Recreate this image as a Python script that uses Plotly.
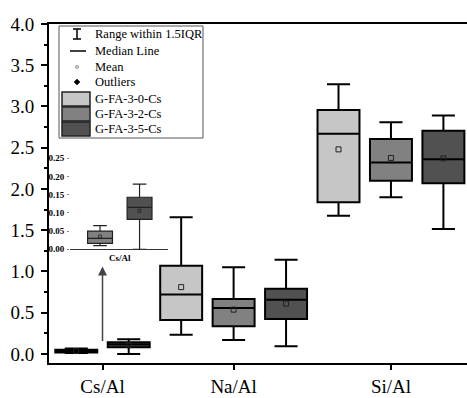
import plotly.graph_objects as go

# ---------------- data ----------------
categories = ["Cs/Al", "Na/Al", "Si/Al"]
cat_tick_pos = [0.5, 3, 6]
series = ["G-FA-3-0-Cs", "G-FA-3-2-Cs", "G-FA-3-5-Cs"]
colors = ["#c6c6c6", "#818181", "#515151"]

# box positions (one slot per box)
pos_30 = [2, 5]          # Na/Al, Si/Al
pos_32 = [0, 3, 6]       # Cs/Al, Na/Al, Si/Al
pos_35 = [1, 4, 7]

lf_30 = [0.234, 1.676]
q1_30 = [0.41, 1.84]
med_30 = [0.72, 2.67]
q3_30 = [1.07, 2.957]
uf_30 = [1.656, 3.27]
mean_30 = [0.81, 2.48]

lf_32 = [0.010, 0.17, 1.90]
q1_32 = [0.0165, 0.335, 2.10]
med_32 = [0.030, 0.557, 2.32]
q3_32 = [0.050, 0.667, 2.606]
uf_32 = [0.065, 1.05, 2.81]
mean_32 = [0.035, 0.537, 2.376]

lf_35 = [0.0, 0.092, 1.515]
q1_35 = [0.082, 0.424, 2.07]
med_35 = [0.115, 0.658, 2.36]
q3_35 = [0.143, 0.79, 2.707]
uf_35 = [0.179, 1.143, 2.89]
mean_35 = [0.106, 0.61, 2.37]

y_ticks = [0.0, 0.5, 1.0, 1.5, 2.0, 2.5, 3.0, 3.5, 4.0]
inset_ticks = [0.00, 0.05, 0.10, 0.15, 0.20, 0.25]

legend_items = ["Range within 1.5IQR", "Median Line", "Mean", "Outliers"]

# ---------------- layout geometry ----------------
W, H = 467, 398
ML, MR, MT, MB = 49, 0, 24, 35
PW, PH = W - ML - MR, H - MT - MB


def px_x(x):
    return (x - ML) / PW


def px_y(y):
    return (H - MB - y) / PH


FONT = "Liberation Serif"

fig = go.Figure()

groups = [
    (pos_30, lf_30, q1_30, med_30, q3_30, uf_30, mean_30, colors[0], series[0]),
    (pos_32, lf_32, q1_32, med_32, q3_32, uf_32, mean_32, colors[1], series[1]),
    (pos_35, lf_35, q1_35, med_35, q3_35, uf_35, mean_35, colors[2], series[2]),
]

for pos, lf, q1, med, q3, uf, mn, col, name in groups:
    fig.add_trace(go.Box(
        x=pos, lowerfence=lf, q1=q1, median=med, q3=q3, upperfence=uf,
        fillcolor=col, line=dict(color="black", width=2), width=0.8,
        whiskerwidth=0.55, boxpoints=False, name=name, showlegend=False,
        xaxis="x", yaxis="y"))
    fig.add_trace(go.Scatter(
        x=pos, y=mn, mode="markers",
        marker=dict(symbol="square-open", size=5, color="#222", line=dict(width=1)),
        showlegend=False, xaxis="x", yaxis="y"))

# inset: Cs/Al zoom
inset_data = [
    ([0], [lf_32[0]], [q1_32[0]], [med_32[0]], [q3_32[0]], [uf_32[0]], [mean_32[0]], colors[1]),
    ([1], [lf_35[0]], [q1_35[0]], [med_35[0]], [q3_35[0]], [uf_35[0]], [mean_35[0]], colors[2]),
]
for pos, lf, q1, med, q3, uf, mn, col in inset_data:
    fig.add_trace(go.Box(
        x=pos, lowerfence=lf, q1=q1, median=med, q3=q3, upperfence=uf,
        fillcolor=col, line=dict(color="#222", width=1.2), width=0.63,
        whiskerwidth=0.55, boxpoints=False, showlegend=False,
        xaxis="x2", yaxis="y2"))
    fig.add_trace(go.Scatter(
        x=pos, y=mn, mode="markers",
        marker=dict(symbol="square-open", size=3, color="#222", line=dict(width=0.8)),
        showlegend=False, xaxis="x2", yaxis="y2"))

shapes = []
annotations = []

# custom legend
lx0, lx1, ly0, ly1 = 59, 203, 26, 138
shapes.append(dict(type="rect", xref="paper", yref="paper",
                   x0=px_x(lx0), x1=px_x(lx1), y0=px_y(ly1), y1=px_y(ly0),
                   line=dict(color="#555", width=1), fillcolor="white", layer="above"))
rows = [34, 51, 67, 82, 99, 114, 129]
sym_x = 77
shapes += [
    dict(type="line", xref="paper", yref="paper", x0=px_x(sym_x), x1=px_x(sym_x),
         y0=px_y(rows[0] + 5), y1=px_y(rows[0] - 5), line=dict(color="black", width=1.5), layer="above"),
    dict(type="line", xref="paper", yref="paper", x0=px_x(sym_x - 4), x1=px_x(sym_x + 4),
         y0=px_y(rows[0] + 5), y1=px_y(rows[0] + 5), line=dict(color="black", width=1.5), layer="above"),
    dict(type="line", xref="paper", yref="paper", x0=px_x(sym_x - 4), x1=px_x(sym_x + 4),
         y0=px_y(rows[0] - 5), y1=px_y(rows[0] - 5), line=dict(color="black", width=1.5), layer="above"),
    dict(type="line", xref="paper", yref="paper", x0=px_x(70), x1=px_x(86),
         y0=px_y(rows[1]), y1=px_y(rows[1]), line=dict(color="black", width=1.5), layer="above"),
    dict(type="rect", xref="paper", yref="paper", x0=px_x(sym_x - 1.2), x1=px_x(sym_x + 1.2),
         y0=px_y(rows[2] + 1.2), y1=px_y(rows[2] - 1.2), line=dict(color="#777", width=0.8), layer="above"),
    dict(type="path", xref="paper", yref="paper",
         path=f"M {px_x(sym_x)} {px_y(rows[3]-3)} L {px_x(sym_x+3)} {px_y(rows[3])} "
              f"L {px_x(sym_x)} {px_y(rows[3]+3)} L {px_x(sym_x-3)} {px_y(rows[3])} Z",
         fillcolor="black", line=dict(color="black", width=0.5), layer="above"),
]
for i, col in enumerate(colors):
    yc = rows[4 + i]
    shapes.append(dict(type="rect", xref="paper", yref="paper",
                       x0=px_x(62), x1=px_x(90), y0=px_y(yc + 7), y1=px_y(yc - 7),
                       fillcolor=col, line=dict(color="#222", width=1.5), layer="above"))
labels = legend_items + series
for lab, yc in zip(labels, rows):
    annotations.append(dict(text=lab, xref="paper", yref="paper", x=px_x(93), y=px_y(yc),
                            xanchor="left", yanchor="middle", showarrow=False,
                            font=dict(family=FONT, size=12.5, color="black")))

# arrow from Cs/Al boxes up to the inset
annotations.append(dict(x=cat_tick_pos[0], y=1.06, ax=cat_tick_pos[0], ay=0.14,
                        xref="x", yref="y", axref="x", ayref="y", text="",
                        showarrow=True, arrowhead=2, arrowsize=1.2, arrowwidth=1.5,
                        arrowcolor="#444"))

fig.update_layout(
    width=W, height=H,
    margin=dict(l=ML, r=MR, t=MT, b=MB, autoexpand=False),
    paper_bgcolor="white", plot_bgcolor="white",
    boxmode="overlay", showlegend=False,
    font=dict(family=FONT, color="black"),
    shapes=shapes, annotations=annotations,
    xaxis=dict(range=[-0.52, 7.45], tickvals=cat_tick_pos, ticktext=categories,
               ticks="outside", ticklen=5, tickwidth=1.5, tickcolor="black",
               showline=True, linewidth=2, linecolor="black", mirror=True,
               showgrid=False, zeroline=False, ticklabelstandoff=0, automargin=False,
               tickfont=dict(family=FONT, size=19, color="black")),
    yaxis=dict(range=[-0.11, 4.0], tickvals=y_ticks, tickformat=".1f",
               ticks="outside", ticklen=6, tickwidth=1.5, tickcolor="black",
               minor=dict(dtick=0.25, ticks="outside", ticklen=3, tickwidth=1.5, tickcolor="black"),
               showline=True, linewidth=2, linecolor="black",
               showgrid=False, zeroline=False, ticklabelstandoff=3, automargin=False,
               tickfont=dict(family=FONT, size=19, color="black")),
    xaxis2=dict(domain=[px_x(70), px_x(168)], anchor="y2", range=[-0.76, 1.72],
                tickvals=[0.5], ticktext=["<b>Cs/Al</b>"], ticks="", showline=True,
                linewidth=1.2, linecolor="#333", showgrid=False, zeroline=False,
                automargin=False,
                tickfont=dict(family=FONT, size=9, color="black")),
    yaxis2=dict(domain=[px_y(249.3), px_y(147.4)], anchor="x2", range=[0, 0.28],
                tickvals=inset_ticks, ticktext=[f"<b>{v:.2f}</b>" for v in inset_ticks],
                ticks="outside", ticklen=2,
                tickcolor="#888", showline=False, showgrid=False, zeroline=False,
                ticklabelstandoff=1, automargin=False,
                tickfont=dict(family=FONT, size=9, color="black")),
)

fig.write_html("out.html")
